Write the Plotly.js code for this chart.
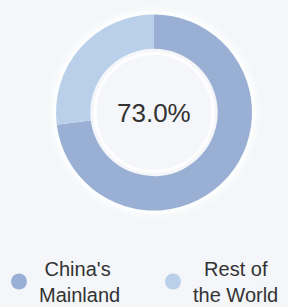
<!DOCTYPE html>
<html>
<head>
<meta charset="utf-8">
<script src="https://cdn.plot.ly/plotly-3.0.1.min.js"></script>
<style>
html,body{margin:0;padding:0;background:#F4F6F9;}
#chart{width:288px;height:307px;}
</style>
</head>
<body>
<div id="chart"></div>
<script>
const categories = ["China's Mainland", "Rest of the World"];
const legendLabels = ["&nbsp;China's<br>Mainland", "&nbsp;&nbsp;Rest of<br>the World"];
const values = [73.0, 27.0];
const colors = ["#9AAFD4", "#BAD0EA"];
const centerLabel = "73.0%";
const legendIds = ['legend', 'legend2'];

const traces = [{
  type: 'pie',
  labels: categories,
  values: values,
  marker: {colors: colors, line: {width: 0}},
  hole: 0.65,
  sort: false,
  direction: 'clockwise',
  rotation: 0,
  textinfo: 'none',
  hoverinfo: 'label+percent',
  showlegend: false,
  domain: {x: [0.1944, 0.875], y: [0.3144, 0.9528]}
}];
categories.forEach((c, i) => {
  traces.push({
    type: 'scatter', mode: 'markers', x: [null], y: [null],
    name: legendLabels[i], legend: legendIds[i],
    marker: {symbol: 'circle', size: 20, color: colors[i]},
    showlegend: true, hoverinfo: 'skip'
  });
});

const cx = 154, cy = 112.5;
function circ(r, fill, line, layer) {
  return {type: 'circle', xref: 'paper', yref: 'paper', layer: layer,
    x0: (cx - r) / 288, x1: (cx + r) / 288,
    y0: (307 - cy - r) / 307, y1: (307 - cy + r) / 307,
    fillcolor: fill, line: line};
}
function legendCfg(xpx) {
  return {
    orientation: 'h', x: xpx / 288, xanchor: 'left', y: -7 / 307, yanchor: 'bottom',
    font: {size: 20, color: '#333333'},
    bgcolor: 'rgba(0,0,0,0)', itemclick: false, itemdoubleclick: false
  };
}

const layout = {
  width: 288, height: 307,
  margin: {l: 0, r: 0, t: 0, b: 0, autoexpand: false},
  paper_bgcolor: '#F4F6F9',
  plot_bgcolor: 'rgba(0,0,0,0)',
  xaxis: {visible: false, range: [0, 1]},
  yaxis: {visible: false, range: [0, 1]},
  font: {family: 'Liberation Sans, Arial, sans-serif', color: '#333333'},
  showlegend: true,
  legend: legendCfg(-1),
  legend2: legendCfg(153),
  shapes: [
    circ(106, 'rgba(255,255,255,0.35)', {width: 0}, 'below'),
    circ(102, 'rgba(255,255,255,0.6)', {width: 0}, 'below'),
    circ(65, '#F5F6F9', {width: 0}, 'below'),
    circ(59, 'rgba(0,0,0,0)', {width: 3, color: 'rgba(255,255,255,0.9)'}, 'above')
  ],
  annotations: [{
    text: centerLabel, x: cx / 288, y: (307 - 113) / 307, xref: 'paper', yref: 'paper',
    showarrow: false, font: {size: 26, color: '#333333'}
  }]
};

Plotly.newPlot('chart', traces, layout, {displayModeBar: false, staticPlot: true});
</script>
</body>
</html>
